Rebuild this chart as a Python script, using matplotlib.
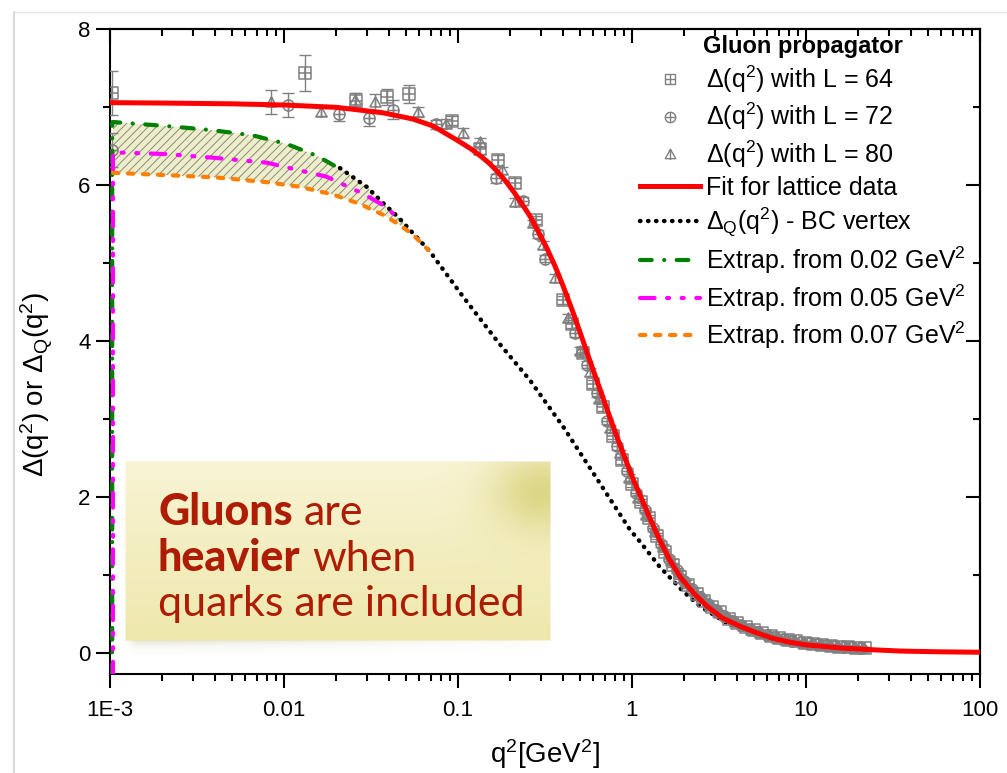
import matplotlib
matplotlib.use('Agg')
import matplotlib.pyplot as plt
import numpy as np
from matplotlib.path import Path
from matplotlib.lines import Line2D
from matplotlib.ticker import LogLocator, NullFormatter, FixedLocator

plt.rcParams['font.family'] = ['Liberation Sans', 'DejaVu Sans']
plt.rcParams['mathtext.fontset'] = 'custom'
plt.rcParams['mathtext.rm'] = 'Liberation Sans'
plt.rcParams['mathtext.it'] = 'Liberation Sans:italic'
plt.rcParams['mathtext.bf'] = 'Liberation Sans:bold'
plt.rcParams['hatch.color'] = '#8a8a80'
plt.rcParams['hatch.linewidth'] = 0.7

# ---- lattice data: Delta(q^2) for three volumes ----
q64 = [0.00103, 0.0132, 0.026, 0.0392, 0.0525, 0.092, 0.134, 0.1706, 0.2128, 0.2806, 0.40,
       0.45, 0.52, 0.6, 0.68, 0.78, 0.88, 1.0, 1.12, 1.25, 1.4, 1.55, 1.72, 1.9, 2.1, 2.35,
       2.6, 2.9, 3.2, 3.6, 4.0, 4.5, 5.0, 5.6, 6.3, 7.0, 7.9, 8.8, 9.9, 11, 12.4, 13.9, 15.5,
       17.4, 19.5, 21.8]
d64 = [7.18, 7.44, 7.08, 7.13, 7.17, 6.83, 6.47, 6.32, 6.03, 5.55, 4.53,
       4.22, 3.85, 3.45, 3.15, 2.78, 2.47, 2.17, 1.94, 1.73, 1.50, 1.30, 1.13, 0.98, 0.87, 0.76,
       0.67, 0.59, 0.52, 0.44, 0.38, 0.33, 0.29, 0.255, 0.22, 0.195, 0.17, 0.15, 0.133, 0.118,
       0.104, 0.093, 0.083, 0.075, 0.068, 0.062]
e64_lo = [0.28, 0.23, 0.1, 0.1, 0.12, 0.06, 0.07, 0.07, 0.06, 0.05, 0.05]

q72 = [0.00103, 0.0105, 0.0208, 0.0309, 0.0421, 0.075, 0.1644, 0.235, 0.29, 0.316,
       0.47, 0.55, 0.63, 0.72, 0.82, 0.93, 1.05, 1.18, 1.32, 1.47, 1.63, 1.81, 2.0, 2.22, 2.47,
       2.75, 3.05, 3.4, 3.8, 4.25, 4.75, 5.3, 5.95, 6.65, 7.45, 8.35, 9.35, 10.5, 11.7, 13.1,
       14.7, 16.5, 18.4, 20.6]
d72 = [6.45, 7.03, 6.91, 6.86, 6.97, 6.78, 6.09, 5.8, 5.38, 5.06,
       4.1, 3.7, 3.33, 2.98, 2.65, 2.33, 2.05, 1.83, 1.60, 1.40, 1.21, 1.06, 0.93, 0.82, 0.72,
       0.63, 0.55, 0.48, 0.41, 0.355, 0.31, 0.27, 0.235, 0.205, 0.18, 0.158, 0.14, 0.125, 0.11,
       0.098, 0.088, 0.079, 0.071, 0.064]
e72_lo = [0.22, 0.16, 0.08, 0.1, 0.12, 0.06, 0.06, 0.05, 0.05, 0.05]

q80 = [0.00839, 0.0164, 0.0256, 0.0333, 0.0591, 0.085, 0.107, 0.134, 0.178, 0.2128, 0.27, 0.31,
       0.36, 0.43,
       0.5, 0.57, 0.65, 0.75, 0.85, 0.96, 1.08, 1.21, 1.36, 1.51, 1.68, 1.86, 2.05, 2.28, 2.53,
       2.82, 3.12, 3.5, 3.9, 4.35, 4.85, 5.45, 6.1, 6.8, 7.6, 8.5, 9.6, 10.7, 12.0, 13.5, 15.1,
       16.9, 18.9, 21.2]
d80 = [7.07, 6.94, 7.1, 7.07, 6.94, 6.79, 6.67, 6.55, 6.19, 5.79, 5.51, 5.23, 4.81, 4.3,
       3.88, 3.6, 3.26, 2.88, 2.56, 2.25, 1.99, 1.77, 1.55, 1.36, 1.18, 1.03, 0.91, 0.8, 0.7,
       0.6, 0.53, 0.46, 0.40, 0.345, 0.30, 0.26, 0.225, 0.195, 0.172, 0.152, 0.134, 0.12, 0.106,
       0.094, 0.084, 0.076, 0.069, 0.062]
e80_lo = [0.15, 0.05, 0.08, 0.1, 0.06, 0.06, 0.06, 0.06, 0.05, 0.05, 0.05, 0.05, 0.05, 0.05]

# errors of the high-momentum points (shared spacing for all volumes)
e_hi = [0.05, 0.05, 0.05, 0.04, 0.04, 0.04, 0.04, 0.04, 0.035, 0.035, 0.035, 0.03, 0.03, 0.03,
        0.03, 0.03, 0.025, 0.025, 0.025, 0.025, 0.02, 0.02, 0.02, 0.02, 0.02, 0.02, 0.02, 0.02,
        0.02, 0.02, 0.02, 0.02, 0.02, 0.02, 0.02]

# ---- fit to the lattice data ----
q_fit = [0.001, 0.002, 0.005, 0.01, 0.02, 0.037, 0.055, 0.072, 0.102, 0.12, 0.134, 0.15,
         0.168, 0.19, 0.21, 0.235, 0.26, 0.29, 0.32, 0.36, 0.40, 0.46, 0.52, 0.60, 0.68, 0.75,
         0.84, 0.93, 1.02, 1.11, 1.25, 1.45, 1.65, 1.90, 2.3, 2.7, 3.3, 4.2, 5.2, 6.4, 8.0, 10,
         15.7, 25, 35, 60, 100]
d_fit = [7.06, 7.055, 7.045, 7.03, 7.0, 6.93, 6.85, 6.76, 6.56, 6.46, 6.38, 6.29,
         6.18, 6.04, 5.91, 5.75, 5.6, 5.4, 5.22, 4.97, 4.72, 4.36, 4.02, 3.62, 3.28, 3.01,
         2.71, 2.45, 2.22, 2.03, 1.76, 1.44, 1.19, 0.97, 0.75, 0.6, 0.45, 0.34, 0.26, 0.19,
         0.14, 0.105, 0.065, 0.04, 0.025, 0.015, 0.01]

# ---- unquenched propagator, BC vertex ----
q_bc = [0.021, 0.0299, 0.0372, 0.0454, 0.0554, 0.069, 0.107, 0.167, 0.259, 0.403, 0.627, 0.974,
        1.11, 1.45, 1.97, 2.46, 3.42, 4.76, 7.0, 10.0]
d_bc = [6.22, 5.98, 5.77, 5.59, 5.38, 5.15, 4.57, 4.01, 3.5, 2.9, 2.24, 1.58,
        1.43, 1.10, 0.79, 0.60, 0.40, 0.27, 0.17, 0.11]

# ---- IR extrapolations ----
q_x02 = [0.00103, 0.00103, 0.00106, 0.00212, 0.00376, 0.00663, 0.01036, 0.0154, 0.021]
d_x02 = [-0.3, 6.81, 6.81, 6.76, 6.71, 6.64, 6.53, 6.38, 6.21]
q_x05 = [0.00104, 0.00104, 0.00114, 0.00212, 0.0041, 0.00796, 0.01236, 0.01759, 0.0286, 0.0389,
         0.0444]
d_x05 = [-0.3, 6.43, 6.42, 6.40, 6.35, 6.29, 6.19, 6.11, 5.89, 5.72, 5.59]
q_x07 = [0.00104, 0.00212, 0.0041, 0.00796, 0.01236, 0.0192, 0.0273, 0.0372, 0.0464, 0.0554,
         0.0675]
d_x07 = [6.16, 6.13, 6.10, 6.04, 5.98, 5.88, 5.76, 5.62, 5.49, 5.36, 5.17]

x_ticks = [1e-3, 1e-2, 1e-1, 1, 10, 100]
x_tick_labels = ['1E-3', '0.01', '0.1', '1', '10', '100']
y_ticks = [0, 2, 4, 6, 8]

labels = ['Δ(q$^2$) with L = 64', 'Δ(q$^2$) with L = 72', 'Δ(q$^2$) with L = 80',
          'Fit for lattice data', 'Δ$_\\mathregular{Q}$(q$^2$) - BC vertex',
          'Extrap. from 0.02 GeV$^2$', 'Extrap. from 0.05 GeV$^2$', 'Extrap. from 0.07 GeV$^2$']

note_lines = [[('Gluons', 'black'), ('are', 'normal')],
              [('heavier', 'black'), ('when', 'normal')],
              [('quarks are included', 'normal')]]

# ---- markers: open symbols with a cross / bar inside ----
cross = Path([(-1, 0), (1, 0), (0, -1), (0, 1)],
             [Path.MOVETO, Path.LINETO, Path.MOVETO, Path.LINETO])
square = Path([(-1, -1), (1, -1), (1, 1), (-1, 1), (-1, -1)],
              [Path.MOVETO, Path.LINETO, Path.LINETO, Path.LINETO, Path.CLOSEPOLY])
sq_marker = Path.make_compound_path(square, cross)
circ_marker = Path.make_compound_path(Path.unit_circle(), cross)
tri = Path([(0, 1), (-1, -0.8), (1, -0.8), (0, 1)],
           [Path.MOVETO, Path.LINETO, Path.LINETO, Path.CLOSEPOLY])
bar = Path([(0, 1), (0, -1)], [Path.MOVETO, Path.LINETO])
tri_marker = Path.make_compound_path(tri, bar)

gray = '#808080'

fig = plt.figure(figsize=(10.07, 7.73), dpi=100)
ax = fig.add_axes([0.1092, 0.128, 0.864, 0.834])
ax.set_xscale('log')
ax.set_xlim(1e-3, 100)
ax.set_ylim(-0.27, 8)

# hatched band between the extrapolations
def logi(q, qs, ds):
    return np.interp(np.log(q), np.log(qs), ds)

q_band = np.geomspace(q_x07[0], q_x07[-1], 300)
upper = np.where(q_band <= q_x02[-1],
                 logi(q_band, q_x02[2:], d_x02[2:]),
                 logi(q_band, q_bc, d_bc))
lower = logi(q_band, q_x07, d_x07)
ax.fill_between(q_band, lower, upper, facecolor='#eeeecb', edgecolor='#8a8a80',
                hatch='////', linewidth=0, zorder=1.5)

series = [(q64, d64, e64_lo + e_hi, sq_marker),
          (q72, d72, e72_lo + e_hi[1:], circ_marker),
          (q80, d80, e80_lo + e_hi[1:], tri_marker)]
handles = []
for q, d, e, mk in series:
    ax.errorbar(q, d, yerr=e, fmt='none', ecolor=gray, elinewidth=1.0, capsize=4.2,
                capthick=1.0, zorder=3)
    ax.plot(q, d, ls='none', marker=mk, ms=8, mfc='none', mec=gray, mew=1.1, zorder=3)
    handles.append(Line2D([], [], ls='none', marker=mk, ms=7.5, mfc='none', mec=gray, mew=1.0))

ax.plot(q_bc, d_bc, color='black', lw=3.2, ls=(0, (0.1, 1.7)), dash_capstyle='round',
        zorder=2.5)
ax.plot(q_fit, d_fit, color='#ff0000', lw=3.6, solid_capstyle='butt', zorder=4)
ax.plot(q_x02, d_x02, color='#008000', lw=3.0, ls=(0, (2.8, 3, 0.01, 3)),
        dash_capstyle='round', zorder=5)
ax.plot(q_x05, d_x05, color='#ff00ff', lw=3.0, ls=(0, (3.5, 3, 0.5, 3, 0.5, 3)),
        dash_capstyle='round', zorder=5)
ax.plot(q_x07, d_x07, color='#ff8000', lw=3.0, ls=(0, (1.3, 2.3)),
        dash_capstyle='round', zorder=5)

handles += [Line2D([], [], color='#ff0000', lw=3.6),
            Line2D([], [], color='black', lw=3.2, ls=(0, (0.1, 1.7)), dash_capstyle='round'),
            Line2D([], [], color='#008000', lw=3.0, ls=(0, (2.8, 3, 0.01, 3)),
                   dash_capstyle='round'),
            Line2D([], [], color='#ff00ff', lw=3.0, ls=(0, (3.5, 3, 0.5, 3, 0.5, 3)),
                   dash_capstyle='round'),
            Line2D([], [], color='#ff8000', lw=3.0, ls=(0, (1.3, 2.3)),
                   dash_capstyle='round')]

leg = ax.legend(handles, labels, title='Gluon propagator',
                title_fontproperties={'weight': 'bold', 'size': 17},
                loc='upper right', bbox_to_anchor=(0.984, 0.992), frameon=False,
                fontsize=18, handlelength=2.4, handletextpad=0.25, labelspacing=0.24,
                borderpad=0, borderaxespad=0)

# axes, ticks
for s in ax.spines.values():
    s.set_linewidth(1.5)
ax.set_xticks(x_ticks, x_tick_labels)
ax.xaxis.set_minor_locator(LogLocator(base=10, subs=range(2, 10)))
ax.xaxis.set_minor_formatter(NullFormatter())
ax.set_yticks(y_ticks)
ax.yaxis.set_minor_locator(FixedLocator([1, 3, 5, 7]))
ax.tick_params(axis='both', which='major', direction='out', length=10, width=1.5,
               labelsize=16)
ax.tick_params(axis='both', which='minor', direction='out', length=5, width=1.5)
ax.tick_params(axis='x', which='major', pad=9)
ax.tick_params(axis='y', which='major', pad=4)

top = ax.secondary_xaxis('top')
top.set_xticks(x_ticks)
top.xaxis.set_minor_locator(LogLocator(base=10, subs=range(2, 10)))
top.xaxis.set_major_formatter(NullFormatter())
top.xaxis.set_minor_formatter(NullFormatter())
top.tick_params(which='major', direction='in', length=10, width=1.5)
top.tick_params(which='minor', direction='in', length=5, width=1.5)
top.spines['top'].set_linewidth(1.5)

right = ax.secondary_yaxis('right')
right.set_yticks(y_ticks)
right.yaxis.set_minor_locator(FixedLocator([1, 3, 5, 7]))
right.yaxis.set_major_formatter(NullFormatter())
right.tick_params(which='major', direction='in', length=10, width=1.5)
right.tick_params(which='minor', direction='in', length=5, width=1.5)
right.spines['right'].set_linewidth(1.5)

ax.set_xlabel('q$^2$[GeV$^2$]', fontsize=20)
ax.xaxis.set_label_coords(0.5, -0.098)
ax.set_ylabel('Δ(q$^2$) or Δ$_\\mathregular{Q}$(q$^2$)', fontsize=20)
ax.yaxis.set_label_coords(-0.063, 0.45)

# sticky note
H, W = 200, 440
yy, xx = np.mgrid[0:H, 0:W].astype(float)
L, R, T, B = 5, 430, 7, 185
v = np.clip((yy - T) / (B - T), 0, 1)
u = np.clip((xx - L) / (R - L), 0, 1)
c_top = np.array([248, 244, 212]) / 255
c_bot = np.array([238, 232, 172]) / 255
rgb = c_top + (c_bot - c_top) * v[..., None]
corner = np.exp(-(((xx - (R - 8)) / 50) ** 2 + ((yy - (T + 30)) / 40) ** 2))
rgb = rgb + (np.array([210, 203, 105]) / 255 - rgb) * (0.7 * corner)[..., None]
edge = np.minimum.reduce([xx - L, R - xx, yy - T, B - yy])
a_note = np.clip(edge / 2.0 + 0.5, 0, 1)
below = np.clip(yy - B, 0, None)
a_sh = 0.45 * np.exp(-below / 5.0) * (yy > B - 2) * np.clip(1.1 - u, 0, 1) \
       * np.clip((xx - L) / 10, 0, 1) * np.clip((R - xx) / 10, 0, 1)
sh_rgb = np.array([200, 195, 150]) / 255
a_tot = a_note + a_sh * (1 - a_note)
rgb_tot = (rgb * a_note[..., None] + sh_rgb * (a_sh * (1 - a_note))[..., None]) \
          / np.maximum(a_tot, 1e-6)[..., None]
note_img = np.dstack([rgb_tot, a_tot])
nax = fig.add_axes([120 / 1007, 1 - 655 / 773, 440 / 1007, 200 / 773])
nax.imshow(note_img, interpolation='bilinear', aspect='auto')
nax.axis('off')

note_color = '#ae1c04'
note_size = 31
renderer = fig.canvas.get_renderer()
baselines = [525, 571, 616]
for line, yb in zip(note_lines, baselines):
    xpos = 158
    for word, weight in line:
        t = fig.text(xpos / 1007, 1 - yb / 773, word, fontsize=note_size, fontweight=weight,
                     family='Lato', color=note_color, va='baseline', ha='left')
        xpos += t.get_window_extent(renderer).width + 0.26 * note_size * 100 / 72

# slide frame
fig.add_artist(Line2D([14 / 1007, 14 / 1007], [0, 1 - 12 / 773], transform=fig.transFigure,
                      color='#d8d8d8', lw=1.5))
fig.add_artist(Line2D([14 / 1007, 1], [1 - 12 / 773, 1 - 12 / 773], transform=fig.transFigure,
                      color='#e4e4e4', lw=1.0))

fig.savefig('out.png', dpi=100)
